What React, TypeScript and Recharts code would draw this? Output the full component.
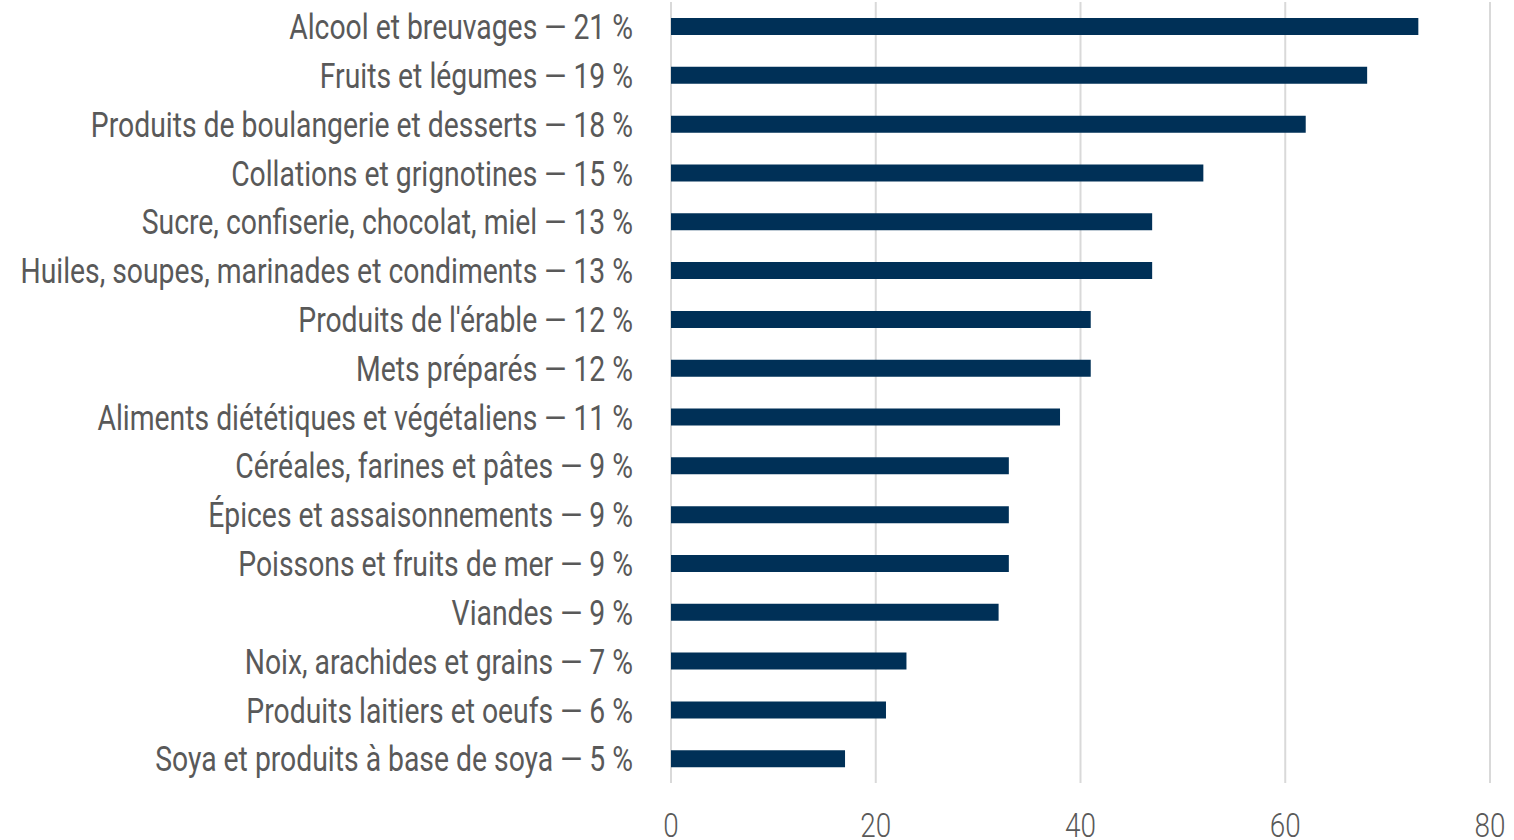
import { Bar, BarChart, CartesianGrid, XAxis, YAxis } from 'recharts';

const CATEGORIES = [
  'Alcool et breuvages — 21 %',
  'Fruits et légumes — 19 %',
  'Produits de boulangerie et desserts — 18 %',
  'Collations et grignotines — 15 %',
  'Sucre, confiserie, chocolat, miel — 13 %',
  'Huiles, soupes, marinades et condiments — 13 %',
  "Produits de l'érable — 12 %",
  'Mets préparés — 12 %',
  'Aliments diététiques et végétaliens — 11 %',
  'Céréales, farines et pâtes — 9 %',
  'Épices et assaisonnements — 9 %',
  'Poissons et fruits de mer — 9 %',
  'Viandes — 9 %',
  'Noix, arachides et grains — 7 %',
  'Produits laitiers et oeufs — 6 %',
  'Soya et produits à base de soya — 5 %',
];

const VALUES = [73, 68, 62, 52, 47, 47, 41, 41, 38, 33, 33, 33, 32, 23, 21, 17];

const X_TICKS = [0, 20, 40, 60, 80];

const FONT = 'Roboto, sans-serif';
const TEXT = '#595959';

const data = CATEGORIES.map((name, i) => ({ name, value: VALUES[i] }));

// no condensed face installed, so squeeze Roboto horizontally
function CatTick({ x, y, payload }: any) {
  return (
    <g transform={`translate(${x},${y})`}>
      <text
        transform="scale(0.787,1)"
        textAnchor="end"
        dy="0.355em"
        fontSize={36}
        fontFamily={FONT}
        fontWeight={400}
        fill={TEXT}
      >
        {payload.value}
      </text>
    </g>
  );
}

function NumTick({ x, y, payload }: any) {
  return (
    <g transform={`translate(${x},${y})`}>
      <text
        transform="scale(0.82,1)"
        textAnchor="middle"
        y={54}
        fontSize={34}
        fontFamily={FONT}
        fontWeight={300}
        fill={TEXT}
      >
        {payload.value}
      </text>
    </g>
  );
}

export default function App() {
  return (
    <div style={{ position: 'absolute', left: 0, top: 0, width: 1514, height: 840, background: '#fff' }}>
      <BarChart
        width={1514}
        height={840}
        data={data}
        layout="vertical"
        margin={{ top: 2, right: 24, left: 0, bottom: 0 }}
        barSize={17}
      >
        <CartesianGrid horizontal={false} stroke="#d9d9d9" strokeWidth={2} />
        <XAxis
          type="number"
          domain={[0, 80]}
          ticks={X_TICKS}
          axisLine={false}
          tickLine={false}
          tickSize={0}
          tickMargin={0}
          height={57}
          tick={<NumTick />}
        />
        <YAxis
          type="category"
          dataKey="name"
          width={671}
          axisLine={false}
          tickLine={false}
          tickSize={0}
          tickMargin={38}
          interval={0}
          tick={<CatTick />}
        />
        <Bar dataKey="value" fill="#003057" isAnimationActive={false} />
      </BarChart>
    </div>
  );
}
